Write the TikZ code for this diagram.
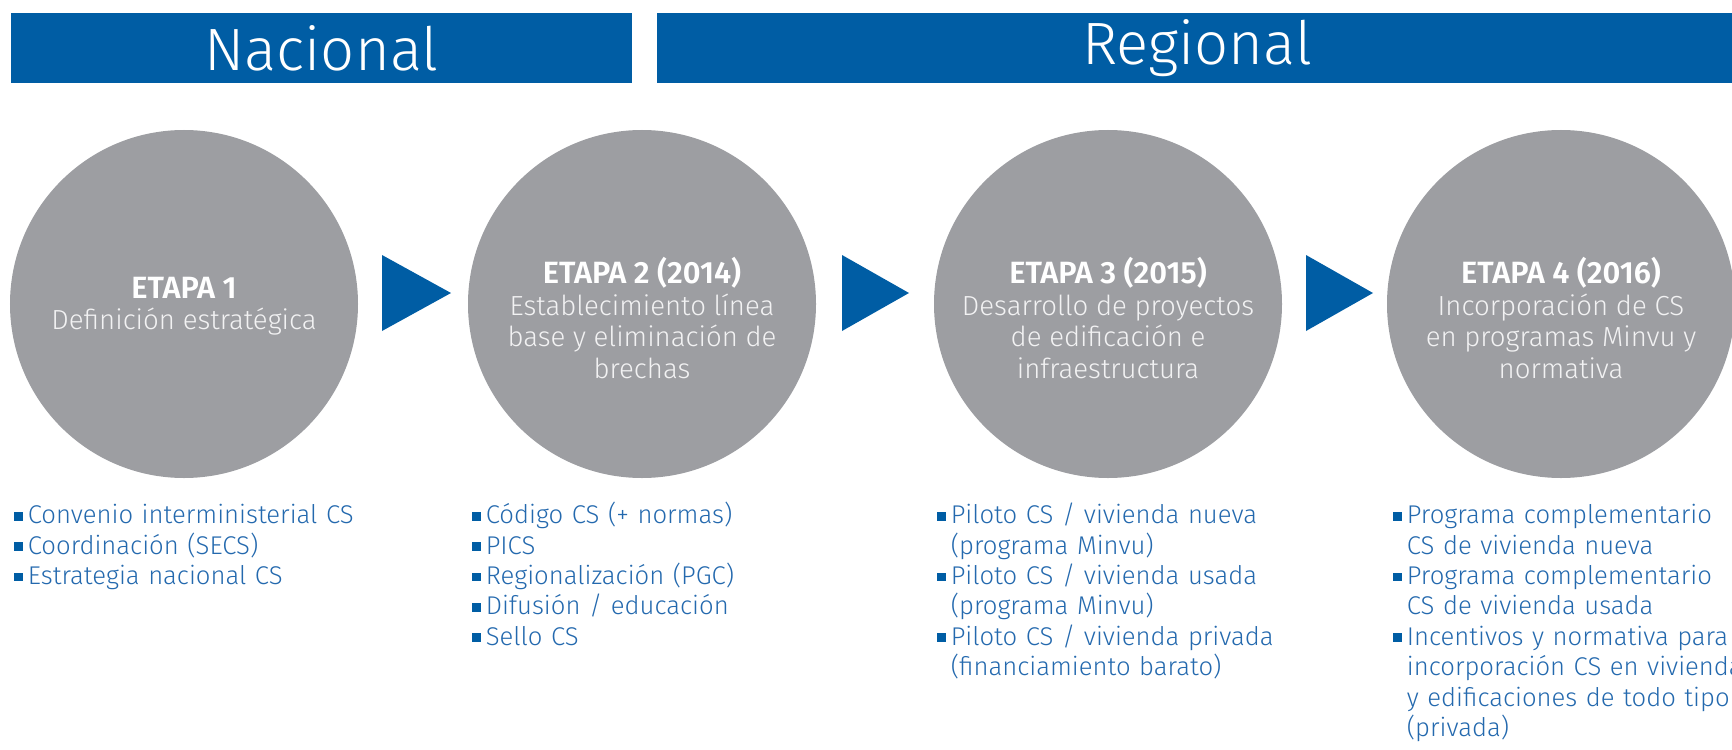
\documentclass[tikz,border=0pt]{standalone}
\usepackage{fontspec}
\setmainfont{Fira Sans}
\newfontfamily\firalight{Fira Sans Light}
\definecolor{barblue}{HTML}{005DA4}
\definecolor{etgrey}{HTML}{9D9EA2}
\definecolor{listblue}{HTML}{2469AE}
\definecolor{subwhite}{HTML}{F2F2F3}
% small square bullet and list item with hanging indent
\newcommand{\bul}{\textcolor{barblue}{\rule[0.12em]{0.35em}{0.35em}}}
\newcommand{\itm}[1]{\par\noindent\hangindent=2.7mm\hangafter=1\makebox[2.7mm][l]{\bul}#1}
\newcommand{\etp}[1]{\textcolor{white}{\fontsize{17.5}{17.9}\selectfont\bfseries #1}}
\begin{document}
\begin{tikzpicture}
        [x=0.2mm, y=-0.2mm,
        bar/.style={fill=barblue, text=white, inner sep=0, minimum height=14mm, font=\firalight\fontsize{34}{36}\selectfont},
        etapa/.style={circle, fill=etgrey, minimum size=69.6mm, inner sep=0},
        etext/.style={align=center, text=subwhite, inner sep=0, font=\firalight\fontsize{15.7}{17.9}\selectfont},
        tri/.style={fill=barblue},
        lista/.style={anchor=north west, inner sep=0, text width=90mm, align=left, text=listblue, font=\firalight\fontsize{14.6}{17.3}\selectfont}]

        \useasboundingbox (0,0) rectangle (1732,750);
        \clip (0,0) rectangle (1732,750);

        % header bars
        \node[bar, minimum width=124.2mm] (nac) at (321.5,48) {Nacional};
        \node[bar, minimum width=216mm] (reg) at (1197,48) {Regional};

        % stages
        \node[etapa] (e1) at (184,304) {};
        \node[etapa] (e2) at (642,304) {};
        \node[etapa] (e3) at (1108,304) {};
        \node[etapa] (e4) at (1561,304) {};

        \node[etext] (t1) at (184,306) {\etp{ETAPA 1}\\Definición estratégica};
        \node[etext] (t2) at (642,318) {\etp{ETAPA 2 (2014)}\\Establecimiento línea\\base y eliminación de\\brechas};
        \node[etext] (t3) at (1108,318) {\etp{ETAPA 3 (2015)}\\Desarrollo de proyectos\\de edificación e\\infraestructura};
        \node[etext] (t4) at (1561,318) {\etp{ETAPA 4 (2016)}\\Incorporación de CS\\en programas Minvu y\\normativa};

        % arrows between stages
        \fill[tri] (382,255) -- (451,293) -- (382,331) -- cycle;
        \fill[tri] (842,255) -- (909,293) -- (842,331) -- cycle;
        \fill[tri] (1306,255) -- (1373,293) -- (1306,331) -- cycle;

        % lists under each stage
        \node[lista] (l1) at (14,493) {\itm{Convenio interministerial CS}\itm{Coordinación (SECS)}\itm{Estrategia nacional CS}\par};
        \node[lista] (l2) at (472,493) {\itm{Código CS (+ normas)}\itm{PICS}\itm{Regionalización (PGC)}\itm{Difusión / educación}\itm{Sello CS}\par};
        \node[lista] (l3) at (937,493) {\itm{Piloto CS / vivienda nueva\newline (programa Minvu)}\itm{Piloto CS / vivienda usada\newline (programa Minvu)}\itm{Piloto CS / vivienda privada\newline (financiamiento barato)}\par};
        \node[lista] (l4) at (1393,493) {\itm{Programa complementario\newline CS de vivienda nueva}\itm{Programa complementario\newline CS de vivienda usada}\itm{Incentivos y normativa para\newline incorporación CS en vivienda\newline y edificaciones de todo tipo\newline (privada)}\par};

        \end{tikzpicture}
\end{document}
